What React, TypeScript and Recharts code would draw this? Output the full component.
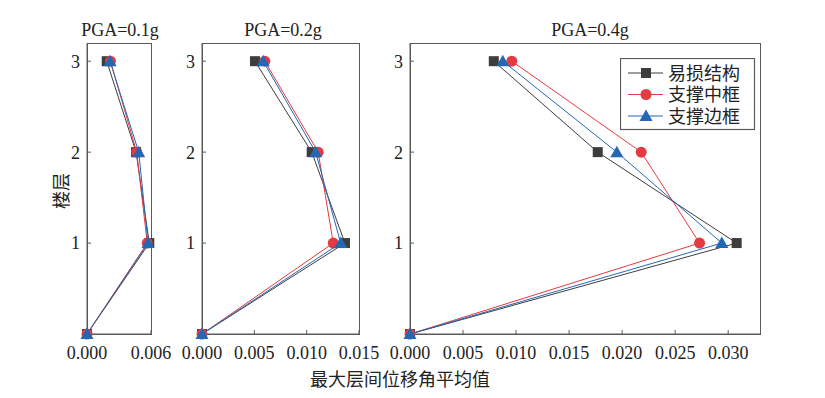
import { ScatterChart, Scatter, XAxis, YAxis } from 'recharts';

const floors = [0, 1, 2, 3];

// PGA=0.1g
const g01Fragile = [0, 0.00584, 0.0046, 0.00185];
const g01Middle = [0, 0.00565, 0.00466, 0.0022];
const g01Side = [0, 0.00572, 0.00485, 0.00216];

// PGA=0.2g
const g02Fragile = [0, 0.01366, 0.01048, 0.00506];
const g02Middle = [0, 0.01254, 0.0111, 0.006];
const g02Side = [0, 0.01325, 0.01086, 0.00585];

// PGA=0.4g
const g04Fragile = [0, 0.0308, 0.0177, 0.0079];
const g04Middle = [0, 0.0273, 0.0218, 0.0096];
const g04Side = [0, 0.0294, 0.0195, 0.00875];

const seriesNames = ['易损结构', '支撑中框', '支撑边框'];
const colors = ['#3d3d3d', '#e63a43', '#2468b4'];

const font = '"Liberation Serif", "Noto Sans CJK SC", serif';
const frame = '#5a5a5a';

const toPoints = (vals: number[]) => floors.map((f, i) => ({ x: vals[i], y: f }));

const Square = (p: any) => <rect x={p.cx - 5} y={p.cy - 5} width={10} height={10} fill={colors[0]} />;
const Dot = (p: any) => <circle cx={p.cx} cy={p.cy} r={5.5} fill={colors[1]} />;
const Tri = (p: any) => (
  <polygon points={`${p.cx},${p.cy - 6.5} ${p.cx + 6.5},${p.cy + 5} ${p.cx - 6.5},${p.cy + 5}`} fill={colors[2]} />
);
const shapes = [Square, Dot, Tri];

type PanelProps = {
  title: string;
  plotLeft: number;
  plotRight: number;
  xMax: number;
  xTicks: number[];
  series: number[][];
  titleX: number;
};

const TOP = 43;
const BOTTOM = 334;
const YW = 30;
const XH = 30;
const RM = 25;

const Panel = ({ title, plotLeft, plotRight, xMax, xTicks, series, titleX }: PanelProps) => {
  const left = plotLeft - YW;
  const top = TOP - 5;
  const width = plotRight - left + RM;
  const height = BOTTOM - top + XH;
  return (
    <>
      <div style={{ position: 'absolute', left: titleX - 60, width: 120, top: 19, textAlign: 'center', fontSize: 18, lineHeight: '22px', color: '#222' }}>
        {title}
      </div>
      <div style={{ position: 'absolute', left: plotLeft, top: TOP, width: plotRight - plotLeft - 1, height: BOTTOM - TOP - 1, border: `1px solid ${frame}` }} />
      <div style={{ position: 'absolute', left, top }}>
        <ScatterChart width={width} height={height} margin={{ top: 5, right: RM, left: 0, bottom: 0 }}>
          <XAxis
            type="number"
            dataKey="x"
            domain={[0, xMax]}
            ticks={xTicks}
            height={XH}
            tickFormatter={(v: number) => v.toFixed(3)}
            tickSize={-4}
            tickMargin={16}
            interval={0}
            stroke={frame}
            tick={{ fill: '#222', fontSize: 18, fontFamily: font }}
          />
          <YAxis
            type="number"
            dataKey="y"
            domain={[0, 3.2]}
            ticks={[1, 2, 3]}
            width={YW}
            tickSize={-4}
            tickMargin={11}
            interval={0}
            stroke={frame}
            tick={{ fill: '#222', fontSize: 18, fontFamily: font }}
          />
          {series.map((vals, i) => (
            <Scatter
              key={seriesNames[i]}
              name={seriesNames[i]}
              data={toPoints(vals)}
              fill={colors[i]}
              line={{ stroke: colors[i], strokeWidth: 1 }}
              lineType="joint"
              shape={shapes[i]}
              isAnimationActive={false}
            />
          ))}
        </ScatterChart>
      </div>
    </>
  );
};

const LegendBox = () => (
  <svg style={{ position: 'absolute', left: 620, top: 58 }} width={136} height={73}>
    <rect x={0.5} y={0.5} width={134} height={71} fill="#fff" stroke={frame} strokeWidth={1.2} />
    {seriesNames.map((n, i) => {
      const cy = 15 + i * 21.5;
      const S = shapes[i];
      return (
        <g key={n}>
          <line x1={8} x2={43} y1={cy} y2={cy} stroke={colors[i]} strokeWidth={1} />
          <S cx={26} cy={cy} />
          <text x={48} y={cy + 6.5} fontSize={18} fontFamily={font} fill="#222">{n}</text>
        </g>
      );
    })}
  </svg>
);

export default function App() {
  return (
    <div style={{ position: 'absolute', left: 0, top: 0, width: 825, height: 398, background: '#fff', fontFamily: font }}>
      <Panel title="PGA=0.1g" plotLeft={87} plotRight={151} xMax={0.006} xTicks={[0, 0.006]}
        series={[g01Fragile, g01Middle, g01Side]} titleX={120} />
      <Panel title="PGA=0.2g" plotLeft={202} plotRight={359} xMax={0.015} xTicks={[0, 0.005, 0.01, 0.015]}
        series={[g02Fragile, g02Middle, g02Side]} titleX={283} />
      <Panel title="PGA=0.4g" plotLeft={410} plotRight={760} xMax={0.033} xTicks={[0, 0.005, 0.01, 0.015, 0.02, 0.025, 0.03]}
        series={[g04Fragile, g04Middle, g04Side]} titleX={590} />
      <LegendBox />
      <div style={{ position: 'absolute', left: 40, top: 178, width: 40, textAlign: 'center', fontSize: 18, transform: 'rotate(-90deg)', color: '#222' }}>
        楼层
      </div>
      <div style={{ position: 'absolute', left: 300, top: 365, width: 200, textAlign: 'center', fontSize: 18, color: '#222' }}>
        最大层间位移角平均值
      </div>
    </div>
  );
}
